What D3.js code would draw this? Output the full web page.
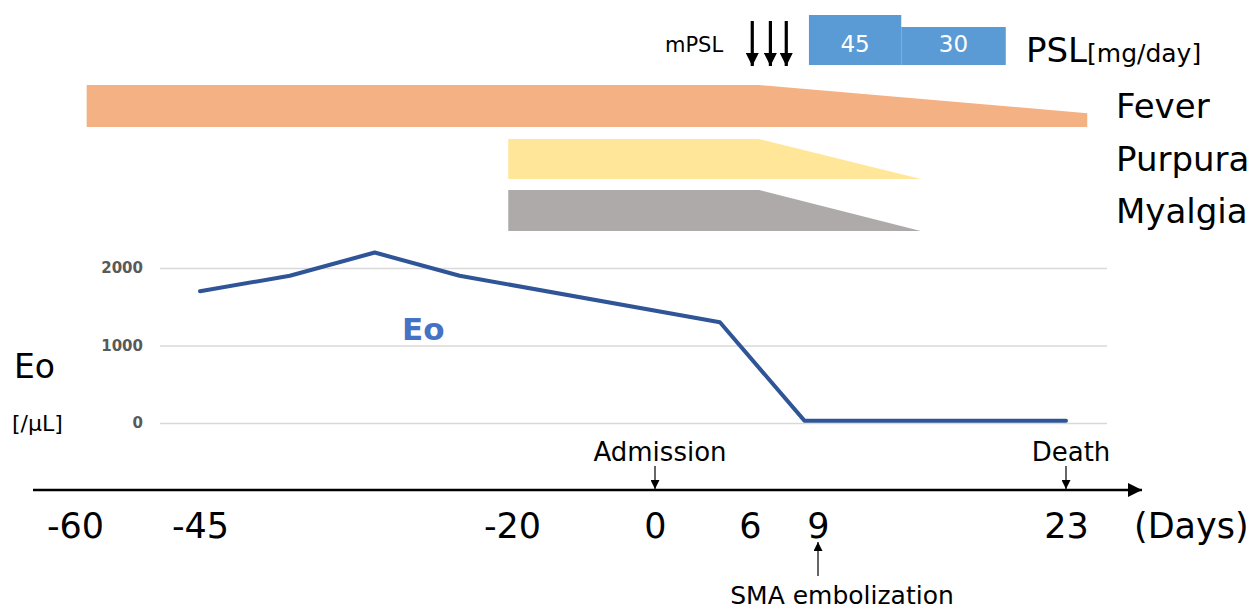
<!DOCTYPE html>
<html><head><meta charset="utf-8">
<script src="https://cdn.jsdelivr.net/npm/d3@7"></script>
<style>body{margin:0;background:#fff}svg{display:block}</style>
</head><body>
<script>
// ---- data ----
const dayTicks = [-60, -45, -20, 0, 6, 9, 23];
const eoDays = [-45, -37.8, -31, -24.2, 4.1, 8.4, 23];
const eoValues = [1700, 1900, 2200, 1900, 1300, 30, 30];
const eoTicks = [0, 1000, 2000];
const symptoms = ["Fever", "Purpura", "Myalgia"];
const symStart = [-58.6, -20.3, -20.3];
const symPlateauEnd = [6.4, 6.4, 6.4];
const symEnd = [24.2, 14.8, 14.8];
const symEndFraction = [0.33, 0, 0];
const pslDoses = [45, 30];
const pslStart = [8.6, 13.7];
const pslEnd = [13.7, 19.6];
const mpslDays = [6.1, 6.9, 7.6];
const events = ["Admission", "Death"];
const eventDays = [0, 23];

const W = 1252, H = 613;
const svg = d3.select("body").append("svg").attr("width", W).attr("height", H);
const defs = svg.append("defs");
function marker(id, size) {
  defs.append("marker").attr("id", id).attr("viewBox", "0 0 10 10").attr("refX", 10).attr("refY", 5)
    .attr("markerWidth", size).attr("markerHeight", size).attr("markerUnits", "userSpaceOnUse").attr("orient", "auto")
    .append("path").attr("d", "M0,0L10,5L0,10Z").attr("fill", "#000");
}
marker("ah", 13); marker("ahBig", 14); marker("ahSmall", 9);

const x = d3.scaleLinear().domain(dayTicks).range([75, 200, 512, 655, 750, 818, 1066]);
const y = d3.scaleLinear().domain([0, 2000]).range([423, 268]);
const FONT = "'DejaVu Sans',Verdana,sans-serif";
const fmt = d => String(d);

// ---- symptom bands ----
const bandTop = [85, 139, 190], bandH = [42, 40, 41];
const bandColor = ["#F4B183", "#FFE699", "#AEAAAA"];
symptoms.forEach((s, i) => {
  const t = bandTop[i], b = t + bandH[i];
  const endTop = b - bandH[i] * symEndFraction[i];
  const pts = [[x(symStart[i]), t], [x(symPlateauEnd[i]), t], [x(symEnd[i]), endTop], [x(symEnd[i]), b], [x(symStart[i]), b]];
  svg.append("path").attr("d", d3.line()(pts) + "Z").attr("fill", bandColor[i]);
  svg.append("text").attr("x", 1116).attr("y", t + bandH[i] / 2 + 12).attr("font-family", FONT)
    .attr("font-size", 34).attr("fill", "#000").text(s);
});

// ---- PSL boxes ----
const boxTop = [15, 27];
pslDoses.forEach((d, i) => {
  svg.append("rect").attr("x", x(pslStart[i])).attr("y", boxTop[i]).attr("width", x(pslEnd[i]) - x(pslStart[i]))
    .attr("height", 65 - boxTop[i]).attr("fill", "#5B9BD5");
  svg.append("text").attr("x", (x(pslStart[i]) + x(pslEnd[i])) / 2).attr("y", 52).attr("text-anchor", "middle")
    .attr("font-family", FONT).attr("font-size", 23).attr("fill", "#fff").text(d);
});
const psl = svg.append("text").attr("x", 1026).attr("y", 62).attr("font-family", FONT).attr("fill", "#000");
psl.append("tspan").attr("font-size", 34).text("PSL");
psl.append("tspan").attr("font-size", 25).text("[mg/day]");

// ---- mPSL arrows ----
svg.append("text").attr("x", 665).attr("y", 52).attr("font-family", FONT).attr("font-size", 21).text("mPSL");
mpslDays.forEach(d => {
  svg.append("line").attr("x1", x(d)).attr("x2", x(d)).attr("y1", 21).attr("y2", 66)
    .attr("stroke", "#000").attr("stroke-width", 3.2).attr("marker-end", "url(#ah)");
});

// ---- Eo chart ----
const gy = svg.append("g").attr("transform", "translate(160,0)")
  .call(d3.axisLeft(y).tickValues(eoTicks).tickSize(-947).tickFormat(fmt));
gy.select(".domain").remove();
gy.selectAll(".tick line").attr("stroke", "#d9d9d9").attr("stroke-width", 1.5);
gy.selectAll(".tick text").attr("x", -17).attr("font-family", FONT).attr("font-size", 15)
  .attr("font-weight", "bold").attr("fill", "#595959");

svg.append("path").datum(eoDays.map((d, i) => [d, eoValues[i]]))
  .attr("d", d3.line().x(d => x(d[0])).y(d => y(d[1])))
  .attr("fill", "none").attr("stroke", "#2F5597").attr("stroke-width", 4).attr("stroke-linejoin", "round").attr("stroke-linecap", "round");
svg.append("text").attr("x", 402).attr("y", 340).attr("font-family", FONT).attr("font-weight", "bold")
  .attr("font-size", 31).attr("fill", "#4472C4").text("Eo");
svg.append("text").attr("x", 14).attr("y", 378).attr("font-family", FONT).attr("font-size", 33).text("Eo");
svg.append("text").attr("x", 12).attr("y", 431).attr("font-family", FONT).attr("font-size", 22).text("[/μL]");

// ---- time axis ----
svg.append("line").attr("x1", 33).attr("x2", 1142).attr("y1", 490).attr("y2", 490)
  .attr("stroke", "#000").attr("stroke-width", 2.5).attr("marker-end", "url(#ahBig)");
const gx = svg.append("g").attr("transform", "translate(0,490)")
  .call(d3.axisBottom(x).tickValues(dayTicks).tickSize(0).tickPadding(0).tickFormat(fmt));
gx.select(".domain").remove();
gx.selectAll(".tick text").attr("dy", 0).attr("y", 48).attr("font-family", FONT).attr("font-size", 35).attr("fill", "#000");
svg.append("text").attr("x", 1134).attr("y", 538).attr("font-family", FONT).attr("font-size", 35).text("(Days)");

events.forEach((e, i) => {
  svg.append("text").attr("x", x(eventDays[i]) + 5).attr("y", 461).attr("text-anchor", "middle")
    .attr("font-family", FONT).attr("font-size", 26).text(e);
  svg.append("line").attr("x1", x(eventDays[i])).attr("x2", x(eventDays[i])).attr("y1", 466).attr("y2", 489)
    .attr("stroke", "#000").attr("stroke-width", 1.2).attr("marker-end", "url(#ahSmall)");
});
svg.append("line").attr("x1", x(9)).attr("x2", x(9)).attr("y1", 576).attr("y2", 542)
  .attr("stroke", "#000").attr("stroke-width", 1.2).attr("marker-end", "url(#ahSmall)");
svg.append("text").attr("x", x(9) + 24).attr("y", 604).attr("text-anchor", "middle")
  .attr("font-family", FONT).attr("font-size", 25).text("SMA embolization");
</script>
</body></html>
